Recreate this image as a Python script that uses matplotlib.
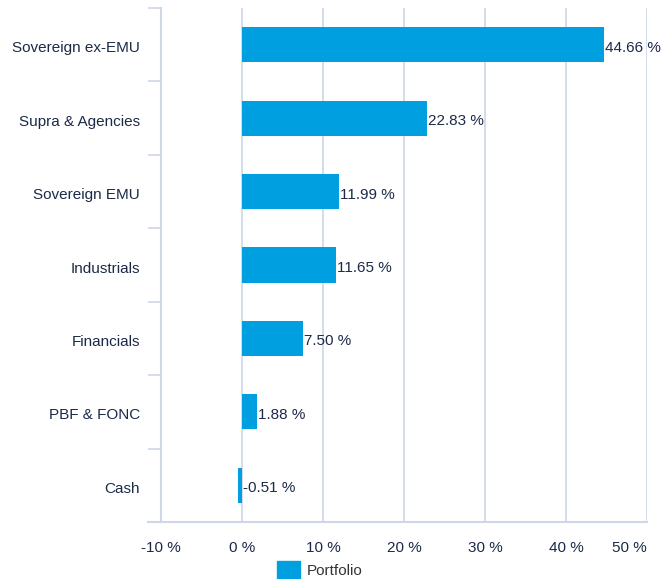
import matplotlib
matplotlib.use("Agg")
import matplotlib.pyplot as plt
import matplotlib.transforms as mtransforms
from matplotlib.patches import Rectangle
import numpy as np

categories = ["Sovereign ex-EMU", "Supra & Agencies", "Sovereign EMU", "Industrials",
              "Financials", "PBF & FONC", "Cash"]
values = [44.66, 22.83, 11.99, 11.65, 7.50, 1.88, -0.51]
xticks = [-10, 0, 10, 20, 30, 40, 50]
xtick_labels = ["-10 %", "0 %", "10 %", "20 %", "30 %", "40 %", "50 %"]
series_name = "Portfolio"

plt.rcParams['font.family'] = ['Liberation Sans', 'DejaVu Sans']
bar_color = "#009fe0"
text_color = "#1c2a48"
grid_color = "#cdd7e6"
fs = 11

fig = plt.figure(figsize=(6.64, 5.79), dpi=100)
ax = fig.add_axes([161/664, 1 - 522/579, (647-161)/664, (522-8)/579])

n = len(categories)
y = np.arange(n)
ax.barh(y, values, height=0.48, color=bar_color, zorder=3)
ax.set_ylim(n - 0.5, -0.5)
ax.set_xlim(-10, 50)

for yi, v in zip(y, values):
    ax.annotate(f"{v:.2f} %", xy=(max(v, 0), yi), xytext=(0.8, -2.2), textcoords="offset points",
                va="center", ha="left", fontsize=fs, color=text_color, zorder=4)

ax.set_xticks(xticks)
ax.set_xticklabels(xtick_labels, fontsize=fs, color=text_color)
lbls = ax.get_xticklabels()
lbls[-1].set_horizontalalignment("right")
ax.tick_params(axis="x", length=0, pad=14)
ax.grid(axis="x", color=grid_color, linewidth=1.2, zorder=0)

ax.set_yticks(y)
ax.set_yticklabels(categories, fontsize=fs, color=text_color)
ax.tick_params(axis="y", which="major", length=0, pad=15)
shift = mtransforms.ScaledTranslation(0, -2/100, fig.dpi_scale_trans)
for t in ax.get_yticklabels():
    t.set_transform(t.get_transform() + shift)
ax.set_yticks(np.arange(-0.5, n + 0.5, 1), minor=True)
ax.tick_params(axis="y", which="minor", length=9.5, width=1.2, color=grid_color)

for s in ["top", "right"]:
    ax.spines[s].set_visible(False)
ax.spines["left"].set_color(grid_color)
ax.spines["left"].set_linewidth(1.5)
ax.spines["bottom"].set_color(grid_color)
ax.spines["bottom"].set_linewidth(1.5)
ax.spines["bottom"].set_bounds(-11.6, 50)

# legend
fig.patches.append(Rectangle((277/664, 0), 23/664, 18/579, transform=fig.transFigure,
                             color=bar_color, figure=fig))
fig.text(307/664, 8/579, series_name, fontsize=fs, color="#333333", va="center", ha="left")

fig.savefig("out.png", dpi=100)
